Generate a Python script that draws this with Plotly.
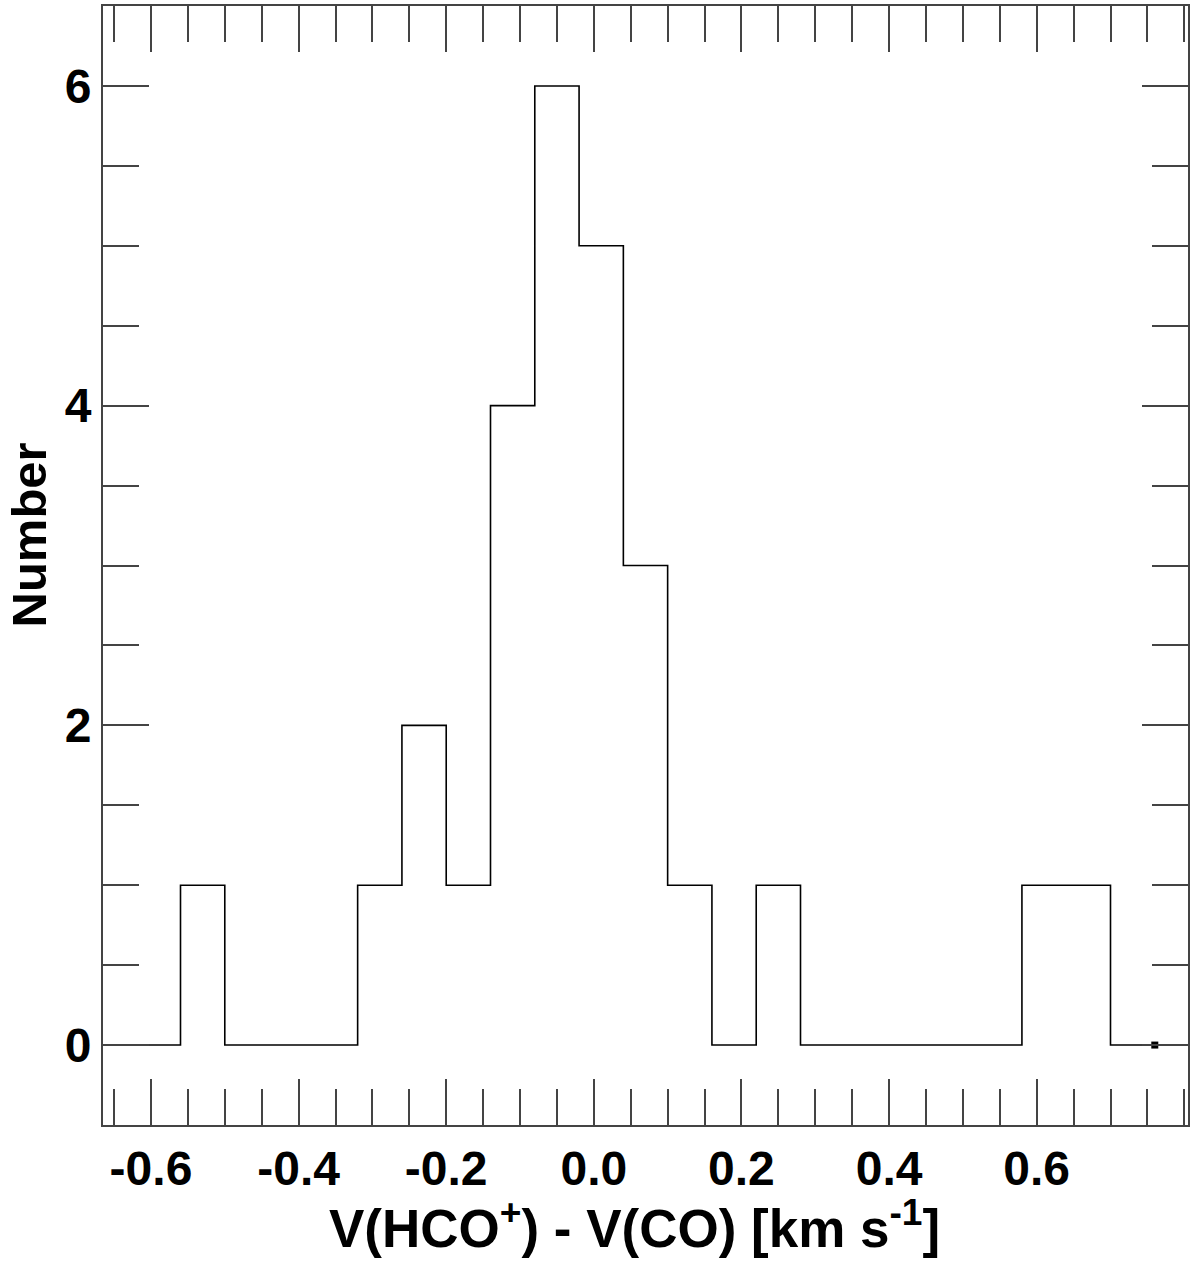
import plotly.graph_objects as go

# Histogram bin edges (km/s) and counts per bin
bin_edges = [-0.62, -0.56, -0.50, -0.44, -0.38, -0.32, -0.26, -0.20, -0.14, -0.08,
             -0.02, 0.04, 0.10, 0.16, 0.22, 0.28, 0.34, 0.40, 0.46, 0.52,
             0.58, 0.64, 0.70, 0.76]
counts = [0, 1, 0, 0, 0, 1, 2, 1, 4, 6,
          5, 3, 1, 0, 1, 0, 0, 0, 0, 0,
          1, 1, 0]

x_tick_vals = [-0.6, -0.4, -0.2, 0.0, 0.2, 0.4, 0.6]
x_tick_text = ["-0.6", "-0.4", "-0.2", "0.0", "0.2", "0.4", "0.6"]
y_tick_vals = [0, 2, 4, 6]
y_tick_text = ["0", "2", "4", "6"]

x_title = "V(HCO<sup>+</sup>) - V(CO) [km s<sup>-1</sup>]"
y_title = "Number"

FONT = "Liberation Sans"
AX = "#444444"

step_x = list(bin_edges)
step_y = list(counts) + [counts[-1]]

fig = go.Figure()
fig.add_trace(go.Scatter(
    x=step_x, y=step_y, mode="lines",
    line=dict(color="black", width=1.6, shape="hv"),
    showlegend=False, hoverinfo="skip"))
fig.add_trace(go.Scatter(
    x=[bin_edges[-1]], y=[counts[-1]], mode="markers",
    marker=dict(symbol="square", size=7, color="black"),
    showlegend=False, hoverinfo="skip"))

fig.update_layout(
    width=1200, height=1269,
    margin=dict(l=103, r=12, t=6, b=144, autoexpand=False),
    paper_bgcolor="white", plot_bgcolor="white",
    font=dict(family=FONT, color="black", size=48, weight="bold"),
)
fig.update_xaxes(
    range=[-0.665, 0.805], automargin=False,
    tickmode="array", tickvals=x_tick_vals, ticktext=x_tick_text,
    ticks="inside", ticklen=46, tickwidth=2, tickcolor=AX,
    minor=dict(dtick=0.05, tick0=0, ticks="inside", ticklen=36, tickwidth=2, tickcolor=AX),
    showline=True, linecolor=AX, linewidth=2, mirror="ticks",
    showgrid=False, zeroline=False,
    tickfont=dict(family=FONT, size=48, weight="bold", color="black"),
    ticklabelstandoff=0,
)
fig.update_yaxes(
    range=[-0.5, 6.5], automargin=False,
    tickmode="array", tickvals=y_tick_vals, ticktext=y_tick_text,
    ticks="inside", ticklen=46, tickwidth=2, tickcolor=AX,
    minor=dict(dtick=0.5, tick0=0, ticks="inside", ticklen=36, tickwidth=2, tickcolor=AX),
    showline=True, linecolor=AX, linewidth=2, mirror="ticks",
    showgrid=False, zeroline=False,
    tickfont=dict(family=FONT, size=48, weight="bold", color="black"),
    ticklabelstandoff=0,
)

fig.add_annotation(
    text=x_title, xref="paper", yref="paper", x=0.4903, y=-0.0893,
    xanchor="center", yanchor="middle", showarrow=False,
    font=dict(family=FONT, size=53, weight="bold", color="black"))
fig.add_annotation(
    text=y_title, xref="paper", yref="paper", x=-0.068, y=0.527,
    xanchor="center", yanchor="middle", showarrow=False, textangle=-90,
    font=dict(family=FONT, size=49, weight="bold", color="black"))

fig.write_html("out.html", config={"displayModeBar": False},
               post_script="document.body.style.margin='0';")
